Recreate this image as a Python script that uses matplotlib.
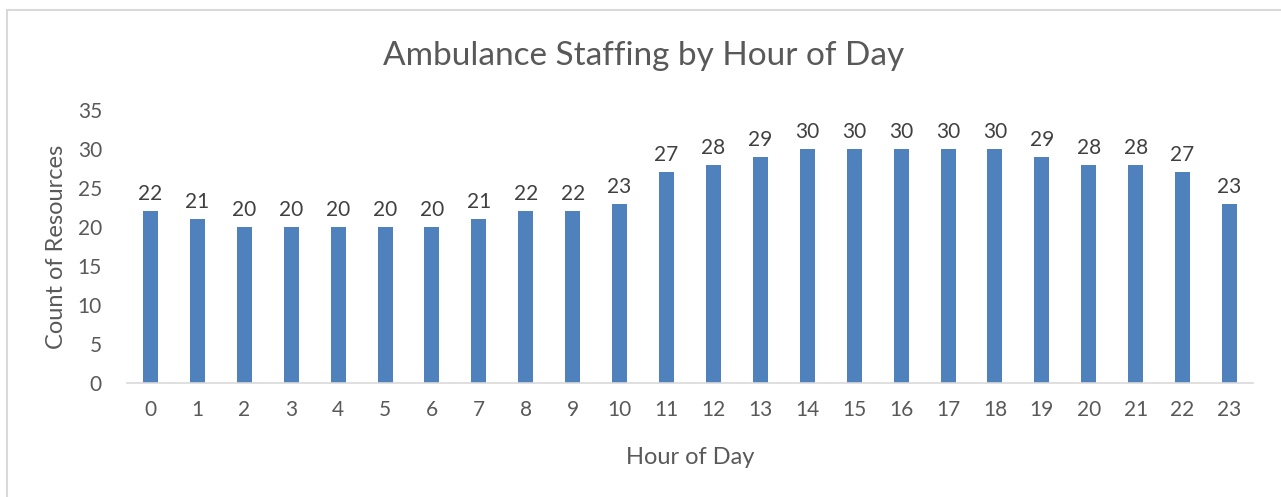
import matplotlib.pyplot as plt
from matplotlib.patches import Rectangle

plt.rcParams['font.family'] = ['Lato', 'DejaVu Sans']

hours = list(range(24))
staff = [22, 21, 20, 20, 20, 20, 20, 21, 22, 22, 23, 27,
         28, 29, 30, 30, 30, 30, 30, 29, 28, 28, 27, 23]
y_ticks = [0, 5, 10, 15, 20, 25, 30, 35]

W, H = 1281, 497
fig = plt.figure(figsize=(W / 100, H / 100), dpi=100)
# chart border, runs off the right and bottom edges of the image
fig.patches.append(Rectangle((7 / W, -0.05), 1.1, (H - 10) / H + 0.05, transform=fig.transFigure,
                             fill=False, edgecolor='#d9d9d9', linewidth=1.5))

# axes area in pixels: x 127..1253, y 110..383
ax = fig.add_axes([127 / W, (H - 383) / H, 1126 / W, 273 / H])
bars = ax.bar(hours, staff, width=0.32, color='#4f81bd')
ax.bar_label(bars, labels=[str(v) for v in staff], padding=5, fontsize=15, color='#404040')

ax.set_xlim(-0.5, 23.5)
ax.set_ylim(0, 35)
ax.set_yticks(y_ticks)
ax.set_xticks(hours)
ax.tick_params(axis='both', length=0, labelsize=15, labelcolor='#595959')
ax.tick_params(axis='x', pad=12)
ax.tick_params(axis='y', pad=18)
for s in ['top', 'right', 'left']:
    ax.spines[s].set_visible(False)
ax.spines['bottom'].set_color('#d9d9d9')
ax.spines['bottom'].set_linewidth(1.2)

ax.set_xlabel('Hour of Day', fontsize=17, color='#595959', labelpad=20)
ax.set_ylabel('Count of Resources', fontsize=17, color='#595959', labelpad=8)
fig.text(644 / W, 1 - 56 / H, 'Ambulance Staffing by Hour of Day', ha='center', va='center',
         fontsize=24, color='#595959')

fig.savefig('out.png', dpi=100)
